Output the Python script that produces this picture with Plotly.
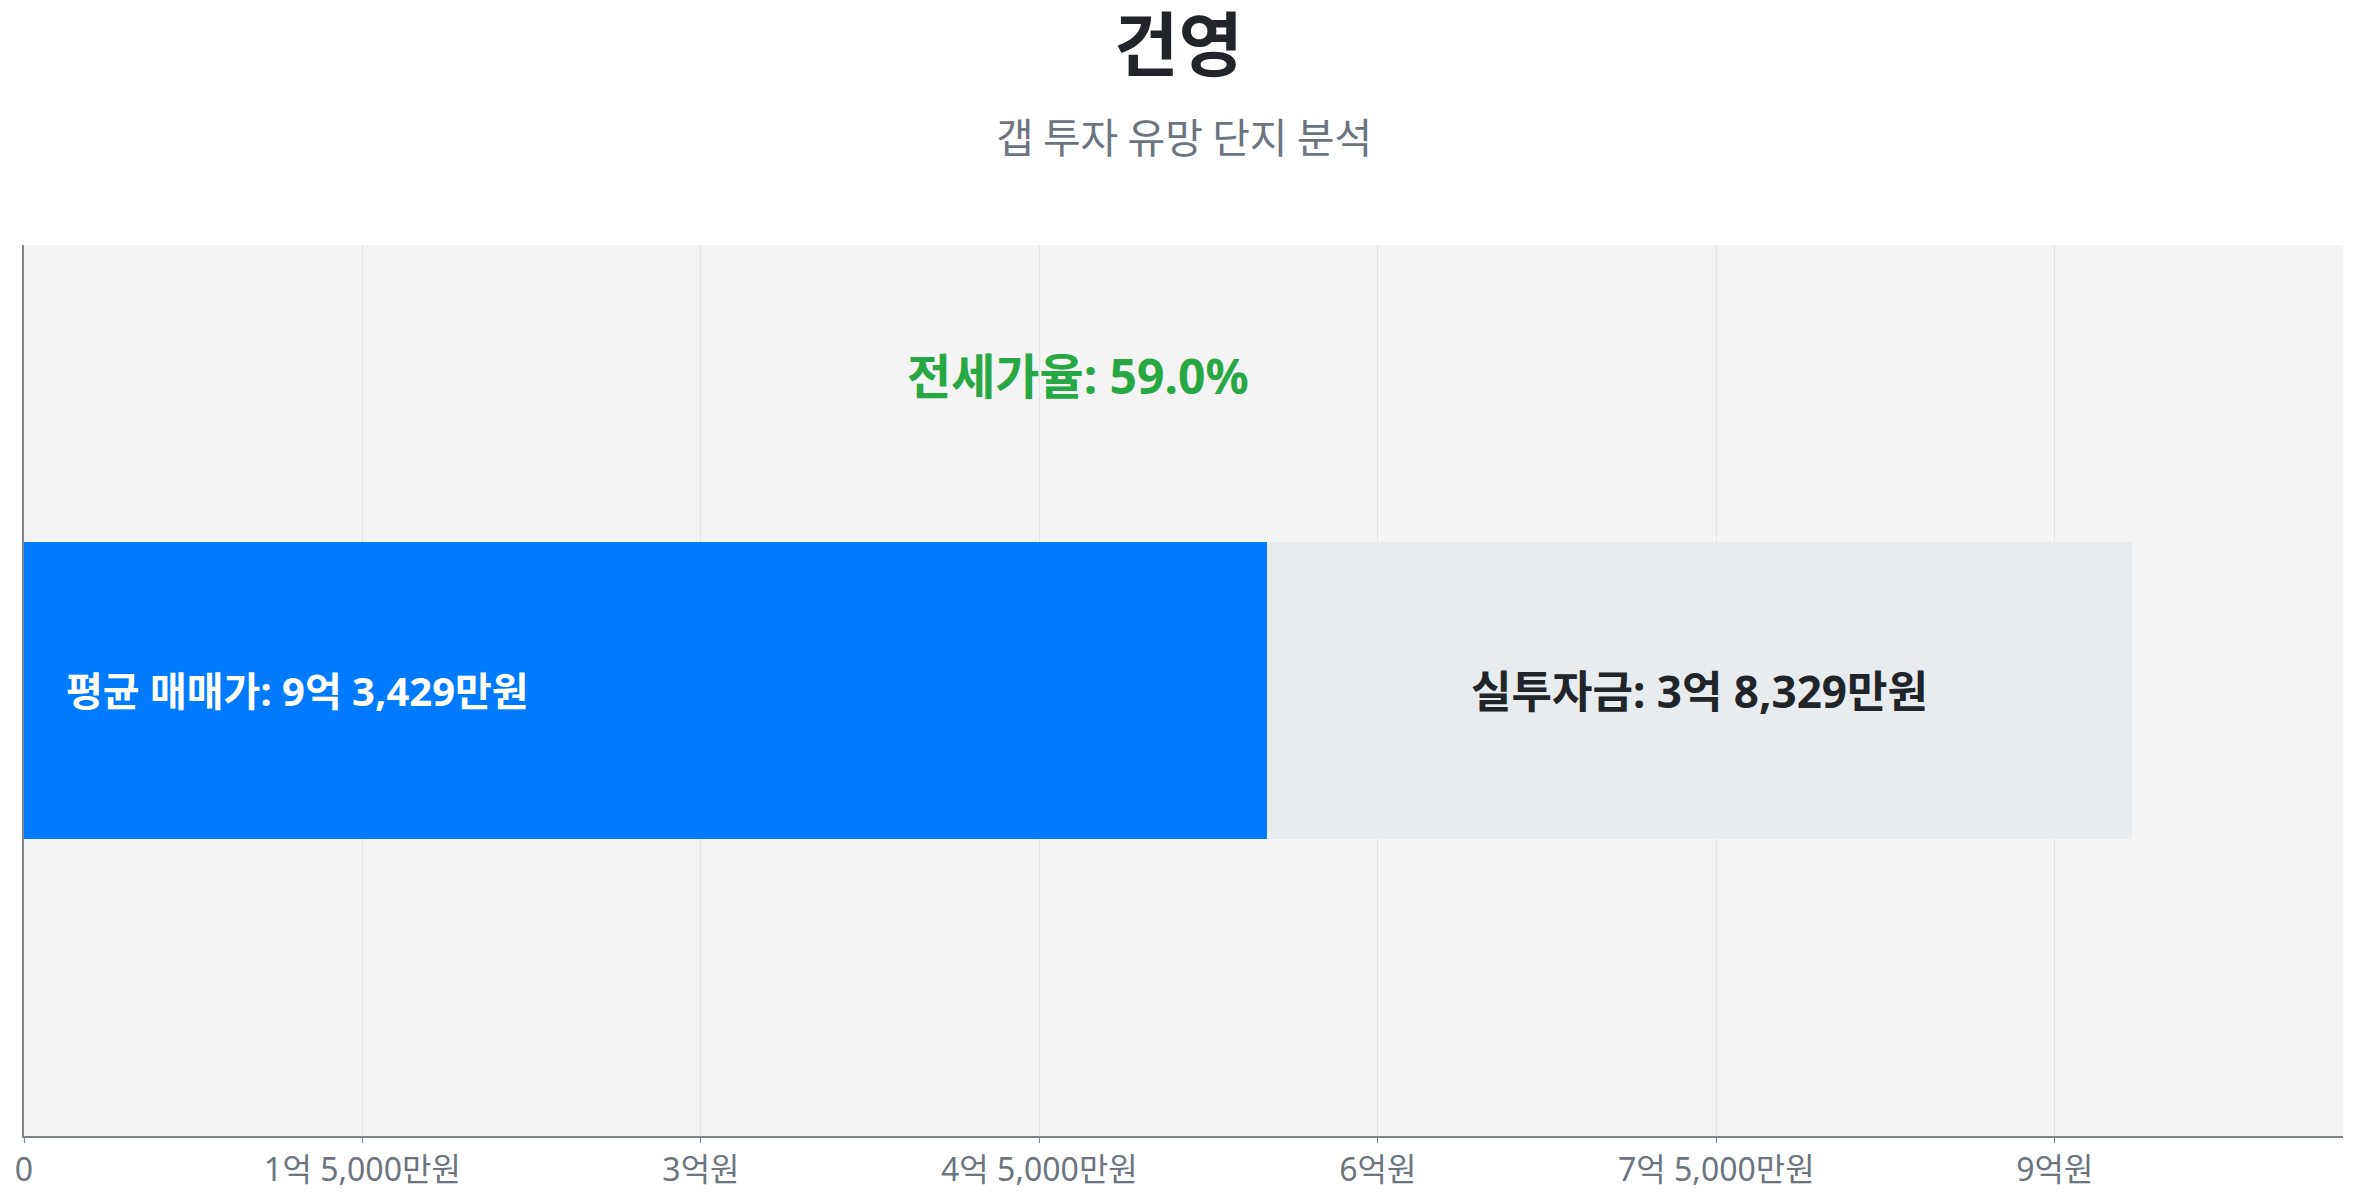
import plotly.graph_objects as go

# ------------------------------------------------------------------ data
complex_name = "건영"
subtitle = "갭 투자 유망 단지 분석"

avg_price = 934_290_000        # 평균 매매가 (원)
gap_amount = 383_290_000       # 실투자금 (원)
jeonse_amount = avg_price - gap_amount
jeonse_rate = jeonse_amount / avg_price * 100

price_label = "평균 매매가: 9억 3,429만원"
gap_label = "실투자금: 3억 8,329만원"
rate_label = f"전세가율: {jeonse_rate:.1f}%"

tick_vals = [0, 150_000_000, 300_000_000, 450_000_000,
             600_000_000, 750_000_000, 900_000_000]
tick_text = ["0", "1억 5,000만원", "3억원", "4억 5,000만원",
             "6억원", "7억 5,000만원", "9억원"]

FONT = "Noto Sans, Noto Sans CJK KR, sans-serif"
KR_FONT = "Noto Sans CJK KR, sans-serif"
W, H = 2341, 1184   # page keeps an 8px body margin

# ---------------------------------------------------------------- figure
fig = go.Figure()

fig.add_trace(go.Bar(
    x=[jeonse_amount], y=[0], orientation="h", width=1,
    marker=dict(color="#007bff", line_width=0),
    hoverinfo="skip", showlegend=False,
))
fig.add_trace(go.Bar(
    x=[gap_amount], y=[0], orientation="h", width=1,
    marker=dict(color="#e9ecef", line_width=0),
    hoverinfo="skip", showlegend=False,
))

# label on the blue part, left aligned with padding
fig.add_annotation(
    x=0, y=0, xref="x", yref="y", xanchor="left", yanchor="middle",
    xshift=40, text=price_label, showarrow=False,
    font=dict(family=FONT, size=40, color="white", weight="bold"),
)
# label centred on the grey part
fig.add_annotation(
    x=jeonse_amount + gap_amount / 2, y=0, xref="x", yref="y",
    text=gap_label, showarrow=False,
    font=dict(family=FONT, size=44, color="#212529", weight="bold"),
)
# jeonse ratio above the bar
fig.add_annotation(
    x=avg_price / 2, y=1.062, xref="x", yref="y",
    text=rate_label, showarrow=False,
    font=dict(family=FONT, size=48, color="#28a745", weight="bold"),
)
# subtitle
fig.add_annotation(
    x=0.5, y=1.1235, xref="paper", yref="paper", yanchor="middle",
    text=subtitle, showarrow=False,
    font=dict(family=KR_FONT, size=41, color="#6c757d"),
)

fig.update_layout(
    title=dict(text=complex_name, x=0.5, xref="container", xanchor="center",
               y=1 - 38 / H, yref="container", yanchor="middle",
               font=dict(family=KR_FONT, size=70, color="#212529", weight="bold")),
    barmode="stack",
    width=W, height=H,
    margin=dict(l=16, r=6, t=237, b=56),
    paper_bgcolor="white",
    plot_bgcolor="#f4f4f4",
    font=dict(family=FONT),
)

fig.update_xaxes(
    range=[0, avg_price * 1.1], automargin=False,
    tickvals=tick_vals, ticktext=tick_text,
    tickfont=dict(family=FONT, size=32, color="#6c757d"),
    showgrid=True, gridcolor="#e4e4e4", gridwidth=1,
    showline=True, linecolor="#7d848b", linewidth=2,
    ticks="outside", ticklen=5, tickcolor="#7d848b", tickwidth=1,
    zeroline=False,
)
fig.update_yaxes(
    range=[-1.5, 1.5], automargin=False,
    showticklabels=False, showgrid=False, zeroline=False,
    showline=True, linecolor="#7d848b", linewidth=2,
)

fig.write_html("out.html")
